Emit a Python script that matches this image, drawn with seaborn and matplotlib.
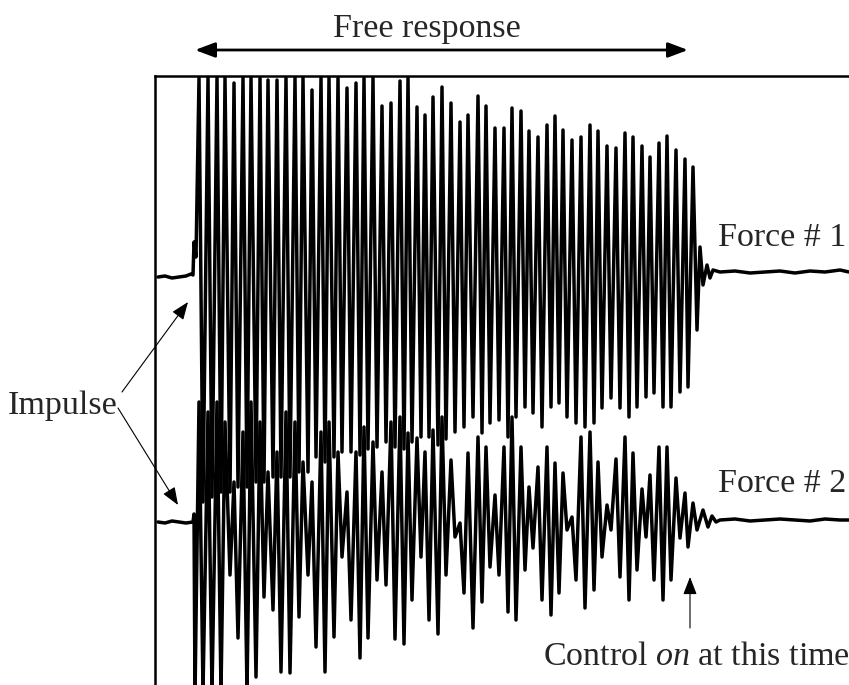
import numpy as np
import pandas as pd
import seaborn as sns
import matplotlib
matplotlib.use("Agg")
import matplotlib.pyplot as plt

sns.set_style("white")
plt.rcParams["font.family"] = ["Liberation Serif", "DejaVu Serif"]
plt.rcParams["mathtext.fontset"] = "custom"
plt.rcParams["mathtext.rm"] = "Liberation Serif"
plt.rcParams["mathtext.it"] = "Liberation Serif:italic"

# ---------------- data (time in a.u., force deflection in a.u.) ----------------
# times of the positive peaks and of the negative troughs of the free response
t_peak = [44, 53, 62, 70, 79, 88, 96, 105, 113, 122,
          131, 140, 148, 157, 166, 174, 183, 192, 201, 209,
          218, 227, 236, 245, 253, 262, 270, 278, 287, 296,
          305, 313, 323, 331, 340, 349, 357, 366, 374, 383,
          392, 400, 408, 417, 426, 435, 443, 452, 461, 470,
          478, 487, 495, 504, 512, 521, 530, 538]
t_trough = [48, 57, 66, 75, 83, 92, 101, 109, 118, 126,
            135, 144, 153, 161, 170, 179, 187, 196, 205, 213,
            222, 231, 240, 249, 257, 266, 274, 283, 291, 300,
            309, 318, 327, 335, 344, 353, 361, 370, 378, 387,
            396, 404, 412, 421, 430, 439, 447, 456, 465, 474,
            482, 491, 499, 508, 516, 525, 533, 542]

# Force # 1 : peak heights (up) and trough depths (down)
f1_peak = [199, 199, 199, 199, 194, 199, 199, 199, 197, 197,
           199, 199, 199, 187, 199, 199, 199, 189, 194, 199,
           199, 171, 174, 196, 199, 170, 162, 180, 190, 174,
           155, 162, 181, 171, 149, 149, 169, 166, 146, 140,
           152, 161, 147, 137, 140, 152, 146, 131, 129, 144,
           140, 131, 120, 134, 141, 127, 118, 110]
f1_trough = [225, 220, 215, 215, 210, 210, 205, 205, 200, 200,
             200, 195, 195, 180, 185, 180, 175, 175, 178, 172,
             170, 165, 170, 172, 165, 160, 160, 168, 162, 155,
             150, 140, 156, 146, 143, 160, 140, 130, 136, 150,
             130, 126, 140, 146, 150, 146, 131, 121, 131, 140,
             130, 120, 116, 130, 130, 115, 110, 53]
f1_pre_t = [3, 10, 17, 24, 31, 36, 38, 39, 41]
f1_pre_v = [0, 1, -1, 0, 1, 3, 2, 35, 20]
f1_post_t = [545, 548, 552, 555, 558, 565, 580, 595, 610, 625, 640, 655, 670, 685, 694]
f1_post_v = [30, -8, 12, -1, 7, 5, 6, 4, 5, 6, 4, 6, 5, 7, 5]

# Force # 2 : peak heights (up) and trough depths (down)
f2_peak = [120, 110, 120, 100, 40, 90, 120, 100, 50, 70,
           110, 100, 60, 40, 90, 100, 70, 30, 70, 95,
           80, 50, 100, 105, 89, 84, 70, 92, 105, 62,
           -1, 69, 85, 75, 27, 75, 105, 75, 35, 55,
           75, 59, 49, 5, 85, 90, 60, 17, 63, 85,
           69, 33, 47, 75, 75, 44, 29, 19]
f2_trough = [170, 170, 170, 53, 116, 170, 155, 75, 88, 150,
             151, 95, 53, 125, 150, 115, 35, 98, 136, 116,
             58, 63, 117, 122, 78, 35, 98, 112, 53, 15,
             71, 106, 80, 45, 53, 90, 98, 48, 26, 78,
             93, 71, 8, 58, 86, 68, 35, 8, 55, 78,
             48, 15, 58, 78, 58, 16, 25, 8]
f2_pre_t = [3, 10, 17, 24, 31, 38, 39, 40]
f2_pre_v = [0, -1, 1, 0, -1, 0, 8, -175]
f2_post_t = [548, 553, 557, 561, 565, 580, 595, 610, 625, 640, 655, 670, 685, 694]
f2_post_v = [12, -5, 6, 0, 2, 3, 1, 2, 3, 2, 1, 3, 2, 2]

labels = ["Force # 1", "Force # 2"]
CH2_OFFSET = -245


def build(pre_t, pre_v, peaks, troughs, post_t, post_v):
    t = list(pre_t)
    v = list(pre_v)
    for tp, p, tt, d in zip(t_peak, peaks, t_trough, troughs):
        t += [tp, tt]
        v += [p, -d]
    t += list(post_t)
    v += list(post_v)
    return pd.DataFrame({"time": t, "force": v})


df1 = build(f1_pre_t, f1_pre_v, f1_peak, f1_trough, f1_post_t, f1_post_v)
df2 = build(f2_pre_t, f2_pre_v, f2_peak, f2_trough, f2_post_t, f2_post_v)
df2["force"] = df2["force"] + CH2_OFFSET

# ---------------- figure ----------------
W, H = 849, 685
fig = plt.figure(figsize=(W / 100, H / 100), dpi=100)
fig.patch.set_facecolor("white")

ax = fig.add_axes([155 / W, -10 / H, (860 - 155) / W, (695 - 76) / H])
sns.lineplot(data=df1, x="time", y="force", sort=False, estimator=None,
             color="black", lw=2.5, ax=ax)
sns.lineplot(data=df2, x="time", y="force", sort=False, estimator=None,
             color="black", lw=2.5, ax=ax)
ax.set_xlim(0, 705)
ax.set_ylim(277 - 695, 277 - 76)
ax.set_xlabel("")
ax.set_ylabel("")
ax.set_xticks([])
ax.set_yticks([])
ax.set_facecolor("none")
for s in ["right", "bottom"]:
    ax.spines[s].set_visible(False)
for s in ["left", "top"]:
    ax.spines[s].set_visible(True)
    ax.spines[s].set_color("black")
    ax.spines[s].set_linewidth(1.8)

# overlay for annotations, in pixel units
ov = fig.add_axes([0, 0, 1, 1], zorder=5)
ov.set_xlim(0, W)
ov.set_ylim(H, 0)
ov.axis("off")
ov.patch.set_alpha(0)

fs = 24.5
ov.text(427, 37, "Free response", ha="center", va="baseline", fontsize=fs)
ov.text(718, 246, labels[0], ha="left", va="baseline", fontsize=fs)
ov.text(718, 492, labels[1], ha="left", va="baseline", fontsize=fs)
ov.text(8, 414, "Impulse", ha="left", va="baseline", fontsize=fs)
ov.text(543, 665, r"Control $\mathit{on}$ at this time", ha="left",
        va="baseline", fontsize=fs)

ov.annotate("", xy=(688, 50), xytext=(195, 50),
            arrowprops=dict(arrowstyle="<|-|>,head_length=0.8,head_width=0.3",
                            mutation_scale=15, lw=2, color="black",
                            shrinkA=0, shrinkB=0))
thin = dict(arrowstyle="-|>,head_length=0.9,head_width=0.35", mutation_scale=12,
            lw=0.8, color="black", shrinkA=0, shrinkB=0)
ov.annotate("", xy=(188, 302), xytext=(122, 392), arrowprops=thin)
ov.annotate("", xy=(178, 505), xytext=(118, 408), arrowprops=thin)
ov.annotate("", xy=(690, 577), xytext=(690, 628), arrowprops=thin)

fig.savefig("out.png", dpi=100, facecolor="white")
